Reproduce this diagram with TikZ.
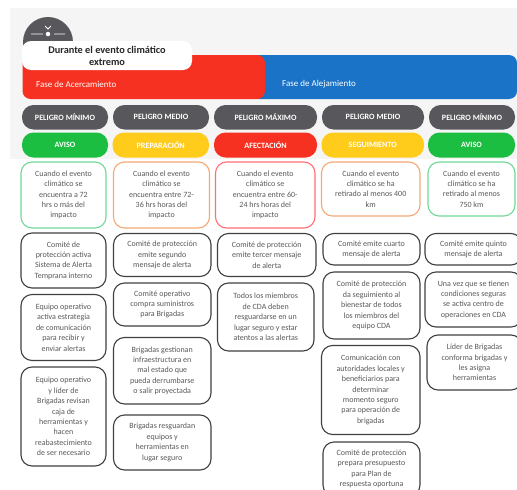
\documentclass[tikz,border=0pt]{standalone}
\usepackage{fontspec}
\setmainfont{Carlito}
\definecolor{pgray}{HTML}{58585C}
\definecolor{pgreen}{HTML}{1BBE40}
\definecolor{pyellow}{HTML}{FFCC1C}
\definecolor{pred}{HTML}{F73121}
\definecolor{pblue}{HTML}{1A73C6}
\definecolor{lgreen}{HTML}{6FD898}
\definecolor{lorange}{HTML}{F4A875}
\definecolor{lred}{HTML}{FF7074}
\definecolor{tgray}{HTML}{595959}
\definecolor{bgray}{HTML}{404040}
\definecolor{bgpale}{HTML}{F5F5F5}
\newcommand{\bx}[7]{%
  \pgfmathsetmacro{\bxw}{#5-#3}\pgfmathsetmacro{\bxh}{#6-#4}%
  \pgfmathsetmacro{\bxx}{(#3+#5)/2}\pgfmathsetmacro{\bxy}{(#4+#6)/2}%
  \node[#2,minimum width=\bxw pt,minimum height=\bxh pt] (#1) at (\bxx,\bxy) {#7};}
\tikzset{
  base/.style={rectangle,inner sep=0pt,outer sep=0pt,align=center},
  pill/.style={base,rounded corners=11.5pt,text=white,font=\fontsize{8.1}{10}\selectfont\bfseries},
  gpill/.style={pill,fill=pgray},
  cond/.style={base,draw=#1,line width=1.1pt,fill=white,rounded corners=11pt,text=tgray,font=\fontsize{8}{10.4}\selectfont},
  act/.style={base,draw=bgray,line width=1.1pt,fill=white,rounded corners=11pt,text=tgray,font=\fontsize{8}{10.4}\selectfont},
  bar/.style={base,fill=#1,rounded corners=8pt},
  phase/.style={inner sep=0pt,text=white,font=\fontsize{9}{10}\selectfont,anchor=west},
}
\begin{document}
\begin{tikzpicture}[x=1pt,y=-1pt]
\useasboundingbox (0,0) rectangle (517,490);
\clip (0,0) rectangle (517,490);
\bx{bg}{base,fill=bgpale}{10}{8}{530}{159}{}
% icon
\node[circle,fill=pgray,minimum size=50pt,inner sep=0pt] (icon) at (48,42) {};
\node[circle,fill=white,minimum size=4.5pt,inner sep=0pt] (sun) at (48,34) {};
\coordinate (la) at (31,34); \coordinate (lb) at (43,34);
\coordinate (ra) at (54,34); \coordinate (rb) at (65,34);
\coordinate (ca) at (45,26); \coordinate (cb) at (48,29); \coordinate (cc) at (51,26);
\draw[white,line width=0.8pt] (la) -- (lb) (ra) -- (rb) (ca) -- (cb) -- (cc);
% phase bars
\bx{blue}{bar=pblue}{250}{55}{517}{99}{}
\bx{red}{bar=pred}{22.5}{55}{265}{99}{}
\node[phase] (fa) at (36,84) {Fase de Acercamiento};
\node[phase] (fb) at (282,84) {Fase de Alejamiento};
\bx{title}{base,fill=white,rounded corners=9pt,font=\fontsize{10.3}{12}\selectfont\bfseries,text=black!85}{22}{41}{192}{70}{Durante el evento climático\\extremo}
% row 1
\bx{p1}{gpill}{22}{105}{108}{129.5}{PELIGRO MÍNIMO}
\bx{p2}{gpill}{113}{105}{209}{129.5}{PELIGRO MEDIO}
\bx{p3}{gpill}{214}{105}{317}{129.5}{PELIGRO MÁXIMO}
\bx{p4}{gpill}{322}{105}{424}{129.5}{PELIGRO MEDIO}
\bx{p5}{gpill}{429}{105}{515}{129.5}{PELIGRO MÍNIMO}
% row 2
\bx{s1}{pill,fill=pgreen}{22}{132.5}{108}{157.5}{AVISO}
\bx{s2}{pill,fill=pyellow}{112.5}{132.5}{209}{157.5}{PREPARACIÓN}
\bx{s3}{pill,fill=pred}{214}{132.5}{317}{157.5}{AFECTACIÓN}
\bx{s4}{pill,fill=pyellow}{321.5}{132.5}{424}{157.5}{SEGUIMIENTO}
\bx{s5}{pill,fill=pgreen}{428}{132.5}{515}{157.5}{AVISO}
% conditions
\bx{c1}{cond=lgreen}{21}{162}{106}{228}{Cuando el evento\\climático se\\encuentra a 72\\hrs o más del\\impacto}
\bx{c2}{cond=lorange}{113.5}{162}{209.5}{228}{Cuando el evento\\climático se\\encuentra entre 72-\\36 hrs horas del\\impacto}
\bx{c3}{cond=lred}{215.5}{162}{315}{228}{Cuando el evento\\climático se\\encuentra entre 60-\\24 hrs horas del\\impacto}
\bx{c4}{cond=lorange}{321.5}{162}{420}{216}{Cuando el evento\\climático se ha\\retirado al menos 400\\km}
\bx{c5}{cond=lgreen}{428}{162}{515}{216}{Cuando el evento\\climático se ha\\retirado al menos\\750 km}
% column 1
\bx{a11}{act}{21}{233}{106}{288}{Comité de\\protección activa\\Sistema de Alerta\\Temprana interno}
\bx{a12}{act}{21}{294.5}{106}{360.5}{Equipo operativo\\activa estrategia\\de comunicación\\para recibir y\\enviar alertas}
\bx{a13}{act}{21}{367}{106}{466}{Equipo operativo\\y líder de\\Brigadas revisan\\caja de\\herramientas y\\hacen\\reabastecimiento\\de ser necesario}
% column 2
\bx{a21}{act}{113.5}{233.5}{211}{276.5}{Comité de protección\\emite segundo\\mensaje de alerta}
\bx{a22}{act}{113.5}{283}{211}{326}{Comité operativo\\compra suministros\\para Brigadas}
\bx{a23}{act}{113.5}{337.5}{211}{404}{Brigadas gestionan\\infraestructura en\\mal estado que\\pueda derrumbarse\\o salir proyectada}
\bx{a24}{act}{113.5}{415}{211}{470}{Brigadas resguardan\\equipos y\\herramientas en\\lugar seguro}
% column 3
\bx{a31}{act}{217.5}{233.5}{316}{276.5}{Comité de protección\\emite tercer mensaje\\de alerta}
\bx{a32}{act}{217.5}{283}{314}{351}{Todos los miembros\\de CDA deben\\resguardarse en un\\lugar seguro y estar\\atentos a las alertas}
% column 4
\bx{a41}{act}{323}{233.5}{420}{265}{Comité emite cuarto\\mensaje de alerta}
\bx{a42}{act}{323}{272}{420}{339}{Comité de protección\\da seguimiento al\\bienestar de todos\\los miembros del\\equipo CDA}
\bx{a43}{act}{321.5}{345.5}{420}{434.5}{Comunicación con\\autoridades locales y\\beneficiarios para\\determinar\\momento seguro\\para operación de\\brigadas}
\bx{a44}{act}{323}{442}{420}{496}{Comité de protección\\prepara presupuesto\\para Plan de\\respuesta oportuna}
% column 5
\bx{a51}{act}{425}{233.5}{522}{265}{Comité emite quinto\\mensaje de alerta}
\bx{a52}{act}{425}{272}{522}{327}{Una vez que se tienen\\condiciones seguras\\se activa centro de\\operaciones en CDA}
\bx{a53}{act}{427}{335}{522}{390}{Líder de Brigadas\\conforma brigadas y\\les asigna\\herramientas}
\end{tikzpicture}
\end{document}
